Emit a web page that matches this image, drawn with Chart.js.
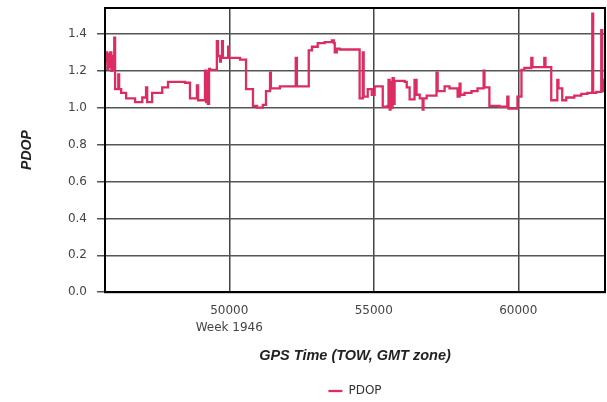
<!DOCTYPE html>
<html>
<head>
<meta charset="utf-8">
<script src="https://cdn.jsdelivr.net/npm/chart.js@4/dist/chart.umd.min.js"></script>
<style>
html,body{margin:0;padding:0;background:#fff;}
#wrap{width:607px;height:402px;position:relative;}
</style>
</head>
<body>
<div id="wrap"><canvas id="c" width="607" height="402"></canvas></div>
<script>
// GPS time of week (s) at which each PDOP value starts (step data)
const gpsTime = [
  45710,45740,45780,45810,45850,45880,45920,45950,45980,46020,
  46050,46160,46190,46260,46430,46740,46990,47120,47160,47330,
  47680,47880,48470,48640,48880,48920,49160,49200,49230,49260,
  49300,49330,49570,49610,49680,49710,49750,49780,49960,49990,
  50370,50580,50820,50960,51160,51270,51410,51440,51750,52300,
  52340,52750,52860,53060,53300,53550,53620,53650,53720,53820,
  54510,54620,54650,54790,54930,55030,55310,55480,55510,55550,
  55580,55620,55650,55690,55720,56070,56140,56240,56410,56480,
  56590,56690,56720,56830,57170,57210,57450,57620,57900,57970,
  58000,58140,58380,58590,58800,58830,59000,59350,59620,59660,
  59970,60110,60210,60450,60490,60900,60940,61140,61350,61390,
  61520,61660,61940,62180,62390,62560,62590,62700,62870,62900,
  62940,63000
];
const pdop = [
  1.25,1.30,1.21,1.29,1.22,1.30,1.20,1.28,1.21,1.38,
  1.10,1.18,1.10,1.08,1.05,1.03,1.055,1.11,1.03,1.08,
  1.11,1.14,1.135,1.05,1.12,1.04,1.20,1.03,1.19,1.02,
  1.21,1.205,1.36,1.28,1.25,1.28,1.36,1.27,1.33,1.27,
  1.26,1.10,1.01,1.00,1.015,1.09,1.19,1.105,1.115,1.27,
  1.115,1.31,1.33,1.35,1.355,1.365,1.35,1.30,1.32,1.315,
  1.05,1.30,1.06,1.10,1.07,1.115,1.005,1.01,1.15,0.99,
  1.14,1.00,1.16,1.02,1.145,1.14,1.11,1.045,1.15,1.07,
  1.05,0.99,1.05,1.065,1.19,1.09,1.115,1.105,1.06,1.13,
  1.07,1.08,1.09,1.105,1.20,1.11,1.01,1.005,1.06,0.995,
  1.06,1.205,1.215,1.27,1.22,1.27,1.22,1.04,1.15,1.105,
  1.04,1.055,1.065,1.075,1.08,1.51,1.08,1.085,1.42,1.15,
  1.09,1.09
];
const seriesName = 'PDOP';
const xTickValues = [50000, 55000, 60000];
const xTickLabels = [['50000', 'Week 1946'], '55000', '60000'];
const yTickValues = [0, 0.2, 0.4, 0.6, 0.8, 1.0, 1.2, 1.4];
const xTitle = 'GPS Time (TOW, GMT zone)';
const yTitle = 'PDOP';

const frame = {
  id: 'frame',
  afterDraw(chart) {
    const a = chart.chartArea, ctx = chart.ctx;
    ctx.save();
    ctx.strokeStyle = '#000';
    ctx.lineWidth = 2;
    ctx.strokeRect(a.left, a.top, a.right - a.left, a.bottom - a.top);
    ctx.restore();
  }
};

const tickFont = {family: 'DejaVu Sans', size: 12, lineHeight: 1.35};

new Chart(document.getElementById('c'), {
  type: 'line',
  data: {
    datasets: [{
      label: seriesName,
      data: gpsTime.map((t, i) => ({x: t, y: pdop[i]})),
      borderColor: '#db2d62',
      backgroundColor: '#db2d62',
      borderWidth: 2.3,
      pointRadius: 0,
      stepped: true,
      fill: false
    }]
  },
  plugins: [frame],
  options: {
    responsive: false,
    animation: false,
    devicePixelRatio: 1,
    layout: {padding: {top: 8, right: 2, bottom: -5, left: 0}},
    plugins: {
      legend: {
        position: 'bottom',
        fullSize: false,
        labels: {
          usePointStyle: true,
          pointStyle: 'line',
          pointStyleWidth: 14,
          padding: 4,
          color: '#333',
          font: {family: 'DejaVu Sans', size: 12}
        }
      },
      tooltip: {enabled: false}
    },
    scales: {
      x: {
        type: 'linear',
        min: 45700,
        max: 63000,
        afterBuildTicks: s => { s.ticks = xTickValues.map(v => ({value: v})); },
        ticks: {
          autoSkip: false,
          maxRotation: 0,
          padding: 11,
          color: '#444',
          font: tickFont,
          callback: v => xTickLabels[xTickValues.indexOf(v)]
        },
        grid: {color: '#444', lineWidth: 1.5, drawTicks: false},
        border: {color: '#000', width: 2},
        title: {
          display: true,
          text: xTitle,
          color: '#222',
          font: {family: 'Liberation Sans', size: 14.5, weight: 'bold', style: 'italic'},
          padding: {top: 1, bottom: 16}
        }
      },
      y: {
        type: 'linear',
        min: 0,
        max: 1.54,
        afterBuildTicks: s => { s.ticks = yTickValues.map(v => ({value: v})); },
        afterFit: s => { s.width = 105; s.paddingTop = 0; s.paddingBottom = 0; },
        ticks: {
          padding: 10,
          color: '#444',
          font: {family: 'DejaVu Sans', size: 12},
          callback: v => v.toFixed(1)
        },
        grid: {color: '#555', lineWidth: 1.5, tickLength: 8},
        border: {color: '#000', width: 2},
        title: {
          display: true,
          text: yTitle,
          color: '#222',
          font: {family: 'Liberation Sans', size: 14, weight: 'bold', style: 'italic'},
          padding: {top: 19, bottom: 0}
        }
      }
    }
  }
});
</script>
</body>
</html>
